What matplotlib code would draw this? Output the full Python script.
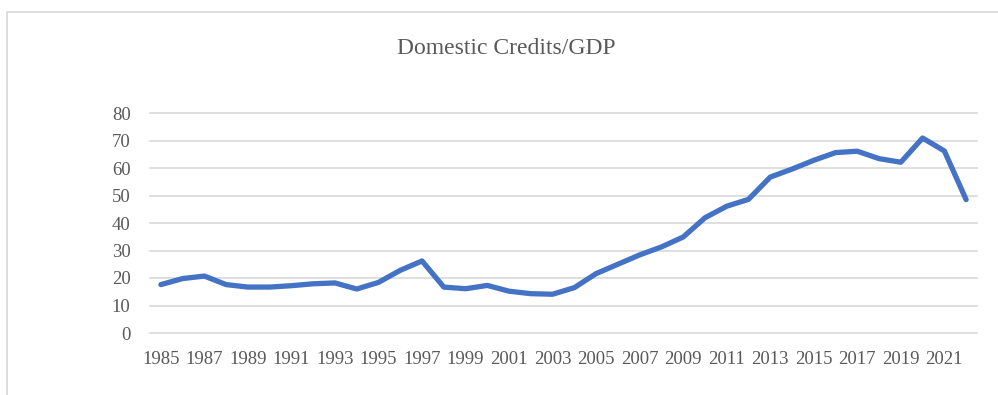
import matplotlib
matplotlib.use("Agg")
import matplotlib.pyplot as plt
from matplotlib.patches import Rectangle

years = list(range(1985, 2023))
credit_gdp = [17.6, 19.8, 20.7, 17.6, 16.7, 16.7, 17.2, 17.9, 18.2, 16.0,
              18.4, 22.8, 26.2, 16.7, 16.1, 17.3, 15.2, 14.3, 14.1, 16.5,
              21.6, 25.0, 28.4, 31.3, 34.9, 41.9, 46.1, 48.6, 56.7, 59.6,
              62.8, 65.6, 66.1, 63.4, 62.1, 70.9, 66.2, 48.5]
y_ticks = [0, 10, 20, 30, 40, 50, 60, 70, 80]
title = "Domestic Credits/GDP"

text_color = "#595959"
grid_color = "#d9d9d9"
line_color = "#4472C4"
font = "Liberation Serif"

fig = plt.figure(figsize=(9.98, 3.95), dpi=100)
fig.patch.set_facecolor("white")

# chart area border (extends past the right and bottom edges)
fig.patches.append(Rectangle((7 / 998, -0.05), 1.2, 1 - 12 / 395 + 0.05,
                             transform=fig.transFigure, fill=False,
                             edgecolor=grid_color, linewidth=1.2))

ax = fig.add_axes([150 / 998, 1 - 333 / 395, 827 / 998, 220 / 395])
x = list(range(len(years)))
ax.plot(x, credit_gdp, color=line_color, linewidth=3.8,
        solid_joinstyle="round", solid_capstyle="round", zorder=3)

ax.set_xlim(-0.5, len(years) - 0.5)
ax.set_ylim(0, 80)
ax.set_yticks(y_ticks)
ax.set_xticks(x[::2])
ax.set_xticklabels([str(y) for y in years[::2]])
ax.yaxis.grid(True, color=grid_color, linewidth=1.2)
for gl in ax.get_ygridlines():
    gl.set_clip_on(False)
ax.set_axisbelow(True)
for s in ax.spines.values():
    s.set_visible(False)
ax.tick_params(axis="both", length=0, colors=text_color, labelsize=13.5)
ax.tick_params(axis="x", pad=13)
ax.tick_params(axis="y", pad=14)
for lab in ax.get_xticklabels() + ax.get_yticklabels():
    lab.set_fontfamily(font)

fig.text(506 / 998, 1 - 48 / 395, title, ha="center", va="center",
         fontsize=17, color=text_color, fontfamily=font)

fig.savefig("out.png", dpi=100)
